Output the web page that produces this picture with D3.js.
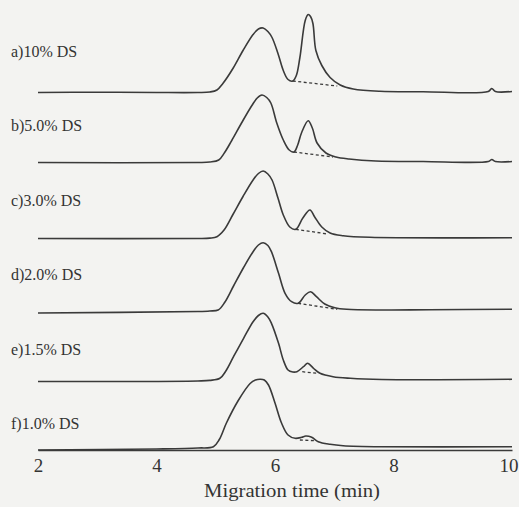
<!DOCTYPE html>
<html>
<head>
<meta charset="utf-8">
<script src="https://cdn.jsdelivr.net/npm/d3@7"></script>
<style>
  html, body { margin: 0; padding: 0; background: #f3f3f1; }
  svg { display: block; }
</style>
</head>
<body>
<svg id="chart"></svg>
<script>
// sample labels, top to bottom
const labels = ["a)10% DS", "b)5.0% DS", "c)3.0% DS", "d)2.0% DS", "e)1.5% DS", "f)1.0% DS"];

// vertical offset of each trace baseline (signal units)
const offsets = [355.5, 285.5, 209.5, 136, 67, 0];

// traces: [migration time (min), signal above baseline]
const traceA = [[2,0],[3,0.3],[4,0],[4.7,0],[4.9,0.5],[5.02,2.5],[5.12,9],[5.29,24],[5.46,42],[5.63,58],[5.72,63.5],[5.8,64.5],[5.88,61],[5.95,55],[6.05,39],[6.14,22],[6.22,13],[6.3,11.5],[6.36,17],[6.42,35],[6.51,72],[6.56,78],[6.6,76],[6.64,69],[6.69,42],[6.79,27],[6.93,15],[7.1,7.5],[7.32,3.5],[7.77,1.2],[8.5,0.8],[9.6,1],[9.66,4],[9.72,1],[10,1]];
const traceB = [[2,0],[4.7,0],[4.9,0.5],[5.05,2.5],[5.15,10],[5.27,22],[5.44,40],[5.61,57],[5.7,64.5],[5.78,67.5],[5.86,65],[5.93,59.5],[6.03,39.5],[6.14,22.5],[6.24,12.5],[6.32,10.5],[6.38,17],[6.45,30],[6.56,41.8],[6.63,34.5],[6.71,19.5],[6.86,9.5],[7.03,5.5],[7.25,3.5],[7.7,1.5],[8.5,1],[9.6,1],[9.66,3],[9.72,1],[10,1]];
const traceC = [[2,0],[4.7,0],[4.9,0.4],[5.02,1.8],[5.14,8.5],[5.29,24],[5.46,42],[5.63,58.5],[5.72,65],[5.8,67.5],[5.88,64.5],[5.95,58.5],[6.05,40.5],[6.14,23.5],[6.25,11.5],[6.35,9.2],[6.47,20.5],[6.59,28.5],[6.67,21.5],[6.79,11.5],[6.93,5.5],[7.15,2.8],[7.6,1.2],[10,0.8]];
const traceD = [[2,-1],[4.7,0.5],[4.9,1],[5.04,2],[5.15,9.5],[5.3,26],[5.47,44.5],[5.63,60.3],[5.72,67],[5.8,69.3],[5.88,66.5],[5.94,60.3],[6.06,38.7],[6.17,18.7],[6.28,10.3],[6.39,8.7],[6.51,17],[6.6,20.3],[6.7,15.3],[6.84,8],[7.01,4.3],[7.21,2.7],[7.8,2],[8.6,2.3],[10,2.7]];
const traceE = [[2,-0.5],[4.7,0],[4.9,0.6],[5.07,2.7],[5.17,10],[5.3,24.3],[5.47,42.7],[5.63,59.3],[5.72,65.5],[5.8,67.7],[5.88,64],[5.94,57.7],[6.06,37.7],[6.14,21],[6.22,11],[6.3,9],[6.37,9.3],[6.48,14.3],[6.55,17.7],[6.65,12.7],[6.76,7.7],[6.98,4.3],[7.27,2.7],[7.8,1.5],[10,1.7]];
const traceF = [[2,-2],[4,-1],[4.7,0],[4.96,1.3],[5.06,8.5],[5.18,25],[5.38,47.5],[5.58,64.5],[5.67,68],[5.75,68.7],[5.82,68],[5.89,63],[6,45],[6.11,25],[6.22,13],[6.34,9.7],[6.45,10.7],[6.52,12],[6.62,10.7],[6.73,6.3],[6.93,3.7],[7.15,2.3],[7.8,1.3],[10,1.3]];
const traces = [traceA, traceB, traceC, traceD, traceE, traceF];

// dashed baselines drawn under the second peak: [t0, h0, t1, h1]
const dropLines = [[6.3,11.5,7.05,6.5],[6.32,10.5,6.98,5.5],[6.35,9.2,6.89,4.5],[6.39,8.7,7.05,2.7],[6.46,9.3,6.71,7.7],[6.42,8,6.68,7.3]];

const xTicks = [2, 4, 6, 8, 10];

const width = 519, height = 507;
const svg = d3.select("#chart").attr("width", width).attr("height", height);

const x = d3.scaleLinear().domain([2, 10]).range([38, 512]);
const y = d3.scaleLinear().domain([0, 448]).range([448, 0]);

const ink = "#3a3a3a";

const line = d3.line()
    .x(d => x(d[0]))
    .y(d => y(d[1]))
    .curve(d3.curveCatmullRom.alpha(0.5));

traces.forEach((tr, i) => {
    const off = offsets[i];
    svg.append("path")
        .datum(tr.map(p => [p[0], p[1] + off]))
        .attr("fill", "none")
        .attr("stroke", ink)
        .attr("stroke-width", 1.6)
        .attr("stroke-linejoin", "round")
        .attr("d", line);

    const dl = dropLines[i];
    svg.append("line")
        .attr("x1", x(dl[0])).attr("y1", y(dl[1] + off))
        .attr("x2", x(dl[2])).attr("y2", y(dl[3] + off))
        .attr("stroke", ink)
        .attr("stroke-width", 1.3)
        .attr("stroke-dasharray", "3,2.5");
});

// sample labels
const labelY = d3.scalePoint().domain(labels).range([57, 429]);
svg.selectAll(".lbl")
    .data(labels)
    .enter().append("text")
    .attr("class", "lbl")
    .attr("x", 11)
    .attr("y", d => labelY(d))
    .attr("font-family", "Liberation Serif")
    .attr("font-size", "16px")
    .attr("fill", "#333")
    .text(d => d);

// x axis
const xAxis = svg.append("g")
    .attr("transform", `translate(0,${y(-2)})`)
    .call(d3.axisBottom(x).tickValues(xTicks).tickSize(0).tickFormat(d3.format("d")));
xAxis.select(".domain").attr("stroke", ink).attr("stroke-width", 1.3);
xAxis.selectAll("text")
    .attr("y", 22)
    .attr("dy", null)
    .attr("font-family", "Liberation Serif")
    .attr("font-size", "19px")
    .attr("fill", "#333");
// the last label sits flush against the right edge
xAxis.selectAll(".tick").filter(d => d === 10).select("text")
    .attr("text-anchor", "end")
    .attr("x", 518 - x(10));

svg.append("text")
    .attr("x", 292)
    .attr("y", 497)
    .attr("text-anchor", "middle")
    .attr("font-family", "Liberation Serif")
    .attr("font-size", "18px")
    .attr("textLength", 176)
    .attr("lengthAdjust", "spacingAndGlyphs")
    .attr("fill", "#333")
    .text("Migration time (min)");
</script>
</body>
</html>
